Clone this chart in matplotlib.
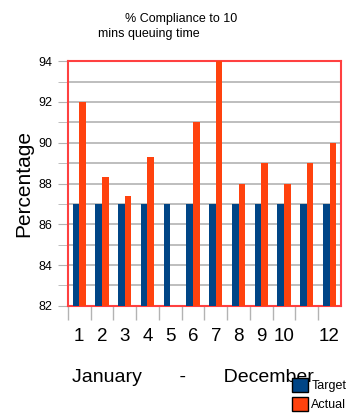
import matplotlib.pyplot as plt
import numpy as np

months = np.arange(1, 13)
month_labels = ["1", "2", "3", "4", "5", "6", "7", "8", "9", "10", "", "12"]
target = [87, 87, 87, 87, 87, 87, 87, 87, 87, 87, 87, 87]
actual = [92, 88.3, 87.4, 89.3, np.nan, 91, 94, 88, 89, 88, 89, 90]

BLUE = "#004586"
RED = "#ff420e"
FRAME = "#ff4040"
GREY = "#b3b3b3"

plt.rcParams["font.family"] = ["Liberation Sans", "DejaVu Sans"]

fig = plt.figure(figsize=(3.57, 4.19), dpi=100)
ax = fig.add_axes([0.190, 0.270, 0.765, 0.584])

width = 0.29
ax.bar(months - width / 2, target, width, color=BLUE, label="Target", zorder=3)
ax.bar(months + width / 2, actual, width, color=RED, label="Actual", zorder=3)

ax.set_xlim(0.5, 12.5)
ax.set_ylim(82, 94)

# y axis: labels every 2, grid lines every 1
ax.set_yticks(np.arange(82, 95, 2))
ax.set_yticks(np.arange(82, 95, 1), minor=True)
ax.tick_params(axis="y", which="both", length=7, color=GREY, labelsize=9, pad=4)
ax.grid(axis="y", which="both", color=GREY, linewidth=1.2, zorder=0)

# x axis: tick marks between months, labels in the middle
ax.set_xticks(np.arange(0.5, 12, 1))
ax.set_xticklabels([])
ax.tick_params(axis="x", which="major", length=10, color=GREY, width=1)
ax.set_xticks(months, minor=True)
ax.set_xticklabels(month_labels, minor=True, fontsize=13.5)
ax.tick_params(axis="x", which="minor", length=0, pad=16)

for side in ax.spines.values():
    side.set_color(FRAME)
    side.set_linewidth(1.5)

ax.set_ylabel("Percentage", fontsize=15, labelpad=4)
ax.set_xlabel("January       -       December", fontsize=14, labelpad=17, x=0.458)

fig.text(0.35, 0.948, "% Compliance to 10", fontsize=9)
fig.text(0.275, 0.912, "mins queuing time", fontsize=9)

fig.legend(loc="upper left", bbox_to_anchor=(0.818, 0.098), frameon=False,
           handlelength=1.3, handleheight=1.3, handletextpad=0.25,
           labelspacing=0.4, fontsize=9, borderpad=0, borderaxespad=0)
for patch in fig.legends[0].get_patches():
    patch.set_edgecolor("black")

fig.savefig("out.png", dpi=100)
